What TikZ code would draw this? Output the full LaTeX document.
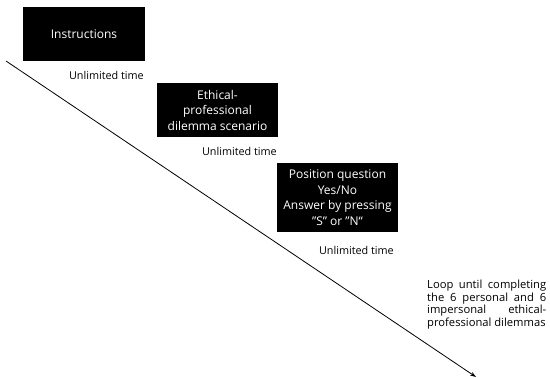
\documentclass[tikz,border=0pt]{standalone}
\usepackage{fontspec}
\setmainfont{Open Sans}
\usetikzlibrary{arrows.meta}
\begin{document}
\begin{tikzpicture}[x=1pt,y=-1pt,
  blackbox/.style={fill=black,text=white,align=center,inner sep=0pt,font=\fontsize{12}{15.5}\selectfont},
  timelabel/.style={anchor=east,inner sep=0pt,font=\fontsize{10.8}{12}\selectfont},
  flow/.style={line width=0.8pt,-{Stealth[length=6pt,width=4pt]}}]
\useasboundingbox (0,0) rectangle (550,378);
\node[blackbox,minimum width=122,minimum height=54] (b1) at (84,34) {Instructions};
\node[blackbox,minimum width=121,minimum height=54] (b2) at (217.5,110) {Ethical-\\professional\\dilemma scenario};
\node[blackbox,minimum width=121,minimum height=69] (b3) at (337.5,197.5) {Position question\\Yes/No\\Answer by pressing\\\symbol{34}S\symbol{34} or \symbol{34}N“};
\node[timelabel] (t1) at (144,75) {Unlimited time};
\node[timelabel] (t2) at (277,151) {Unlimited time};
\node[timelabel] (t3) at (394,250) {Unlimited time};
\node[anchor=north west,inner sep=0pt,text width=119,align=justify,font=\fontsize{11.2}{12.5}\selectfont] (loop) at (427,280) {\hyphenpenalty=10000 Loop until completing\linebreak the 6 personal and 6\linebreak impersonal ethical-\linebreak professional dilemmas};
\coordinate (s) at (6,61);
\coordinate (e) at (476,377);
\draw[flow] (s) -- (e);
\end{tikzpicture}
\end{document}
